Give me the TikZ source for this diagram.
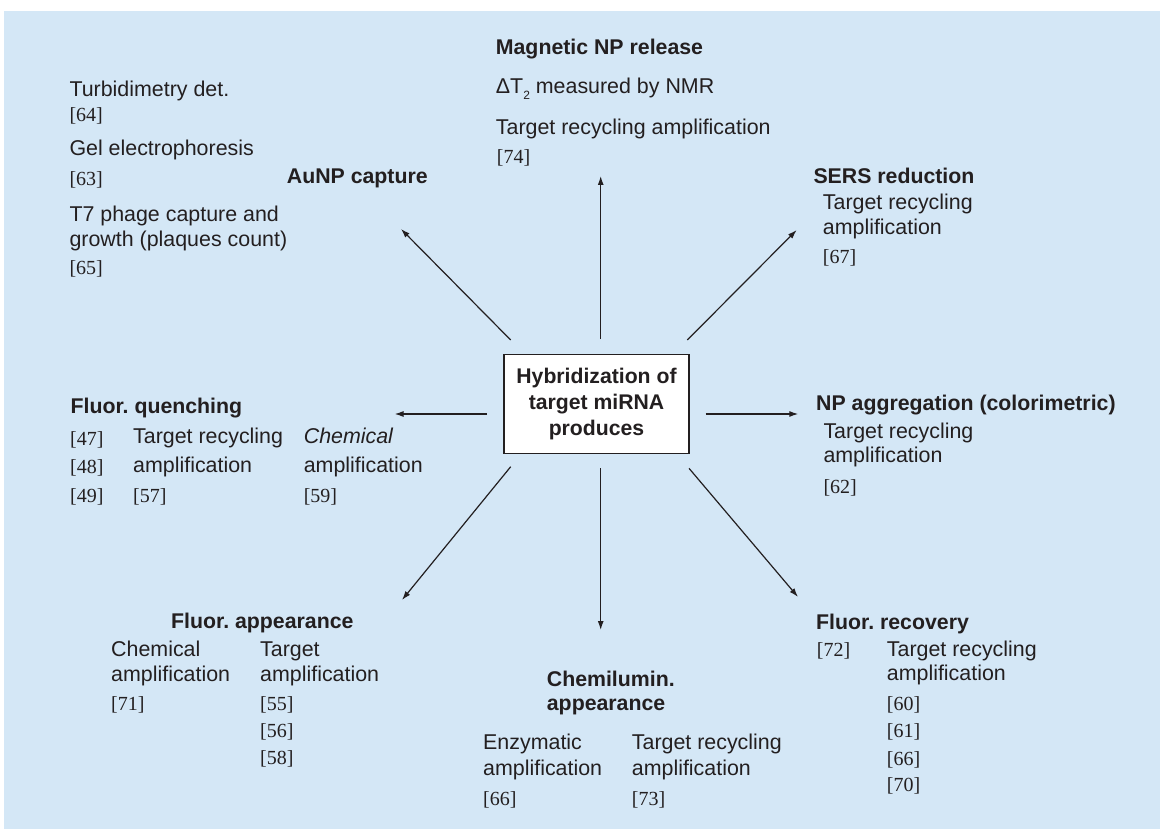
\documentclass[tikz,border=0pt]{standalone}
\usepackage{fontspec}
\setmainfont{Liberation Sans}
\newfontfamily\serf{Liberation Serif}
\usetikzlibrary{arrows.meta}
\definecolor{bg}{RGB}{212,231,246}
\definecolor{ink}{RGB}{35,31,32}
\frenchspacing
\begin{document}
\begin{tikzpicture}[x=1pt,y=-1pt,
  txt/.style={anchor=base west, inner sep=0pt, text=ink, font=\fontsize{21.4}{25}\selectfont},
  hd/.style={anchor=base west, inner sep=0pt, text=ink, font=\fontsize{21.3}{25}\selectfont\bfseries},
  rf/.style={anchor=base west, inner sep=0pt, text=ink, font=\serf\fontsize{20}{25}\selectfont},
  arr/.style={draw=ink, line width=1.2pt, -{Latex[length=9pt,width=6pt]}},
  hubbox/.style={draw=ink, fill=white, line width=1.2pt, minimum width=185pt, minimum height=99pt,
    align=center, inner sep=0pt, text=ink, font=\fontsize{21.2}{26}\selectfont\bfseries}]
\useasboundingbox (0,0) rectangle (1160,829);
\fill[bg] (4,11) rectangle (1160,829);

% hub
\node[hubbox] (hub) at (596.5,404) {Hybridization of\\target miRNA\\produces};

% arrow end points
\coordinate (sU) at (600.7,339);   \coordinate (tU) at (600.7,176);
\coordinate (sUL) at (510.7,340);  \coordinate (tUL) at (401,229);
\coordinate (sUR) at (687.3,340);  \coordinate (tUR) at (796.7,230);
\coordinate (sL) at (487,414);     \coordinate (tL) at (394.6,414);
\coordinate (sR) at (705.7,414);   \coordinate (tR) at (798.3,414);
\coordinate (sDL) at (510.7,466.7);\coordinate (tDL) at (402,600);
\coordinate (sD) at (600.7,468.3); \coordinate (tD) at (600.7,630);
\coordinate (sDR) at (689,468.3);  \coordinate (tDR) at (798,597);
\draw[arr] (sU) -- (tU);
\draw[arr] (sUL) -- (tUL);
\draw[arr] (sUR) -- (tUR);
\draw[arr] (sL) -- (tL);
\draw[arr] (sR) -- (tR);
\draw[arr] (sDL) -- (tDL);
\draw[arr] (sD) -- (tD);
\draw[arr] (sDR) -- (tDR);

% AuNP capture
\node[hd] (au) at (286.7,183.3) {AuNP capture};
\node[txt] (tur) at (69.3,97) {Turbidimetry det.};
\node[rf] (r64) at (69.3,121.7) {[64]};
\node[txt] (gel) at (69.3,155.7) {Gel electrophoresis};
\node[rf] (r63) at (69.3,185.7) {[63]};
\node[txt] (t7a) at (69.3,221.7) {T7 phage capture and};
\node[txt] (t7b) at (69.3,246.7) {growth (plaques count)};
\node[rf] (r65) at (69.3,275) {[65]};

% Magnetic NP release
\node[hd] (mag) at (495.7,55) {Magnetic NP release};
\node[txt] (nmr) at (495.7,94) {ΔT\raisebox{-0.45ex}{\fontsize{12}{12}\selectfont 2} measured by NMR};
\node[txt] (mtr) at (495.7,135) {Target recycling amplification};
\node[rf] (r74) at (496.7,163.3) {[74]};

% SERS reduction
\node[hd] (sers) at (813.3,184) {SERS reduction};
\node[txt] (s1) at (822.7,209.3) {Target recycling};
\node[txt] (s2) at (822.7,234.3) {amplification};
\node[rf] (r67) at (822.7,264) {[67]};

% Fluor. quenching
\node[hd] (fq) at (70.4,413.6) {Fluor. quenching};
\node[rf] (r47) at (70,445) {[47]};
\node[rf] (r48) at (70,473.6) {[48]};
\node[rf] (r49) at (70,502) {[49]};
\node[txt] (q1) at (133,443) {Target recycling};
\node[txt] (q2) at (133,472) {amplification};
\node[rf] (r57) at (133,502) {[57]};
\node[txt,font=\fontsize{21.4}{25}\selectfont\itshape] (q3) at (303.6,443) {Chemical};
\node[txt] (q4) at (303.6,472) {amplification};
\node[rf] (r59) at (303.6,502) {[59]};

% NP aggregation
\node[hd] (agg) at (816,410.7) {NP aggregation (colorimetric)};
\node[txt] (a1) at (823.3,438.3) {Target recycling};
\node[txt] (a2) at (823.3,462) {amplification};
\node[rf] (r62) at (823.3,493.3) {[62]};

% Fluor. appearance
\node[hd] (fa) at (171,628.3) {Fluor. appearance};
\node[txt] (f1) at (111,656) {Chemical};
\node[txt] (f2) at (111,681) {amplification};
\node[rf] (r71) at (111,710) {[71]};
\node[txt] (f3) at (260,656) {Target};
\node[txt] (f4) at (260,681) {amplification};
\node[rf] (r55) at (260,710) {[55]};
\node[rf] (r56) at (260,737.3) {[56]};
\node[rf] (r58) at (260,764.3) {[58]};

% Chemilumin. appearance
\node[hd] (ch1) at (546.7,686.7) {Chemilumin.};
\node[hd] (ch2) at (546.7,710.7) {appearance};
\node[txt] (c1) at (483,749.3) {Enzymatic};
\node[txt] (c2) at (483,775) {amplification};
\node[rf] (r66a) at (483,805) {[66]};
\node[txt] (c3) at (631.7,749.3) {Target recycling};
\node[txt] (c4) at (631.7,775) {amplification};
\node[rf] (r73) at (631.7,805) {[73]};

% Fluor. recovery
\node[hd] (fr) at (816,629) {Fluor. recovery};
\node[rf] (r72) at (816.7,656) {[72]};
\node[txt] (v1) at (886.7,656) {Target recycling};
\node[txt] (v2) at (886.7,680) {amplification};
\node[rf] (r60) at (886.7,710) {[60]};
\node[rf] (r61) at (886.7,737.3) {[61]};
\node[rf] (r66b) at (886.7,765) {[66]};
\node[rf] (r70) at (886.7,791.7) {[70]};
\end{tikzpicture}
\end{document}
